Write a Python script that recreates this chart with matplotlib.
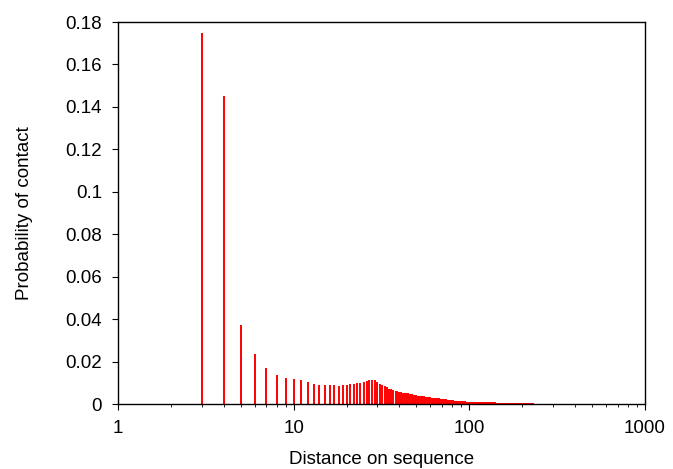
import numpy as np
import matplotlib
matplotlib.use("Agg")
import matplotlib.pyplot as plt
from matplotlib.ticker import FixedLocator, LogLocator, NullFormatter

plt.rcParams['font.family'] = ['Liberation Sans', 'DejaVu Sans']

# Sequence distance (integer) and probability of contact
distance = list(range(3, 251))
probability = [
    0.175, 0.145, 0.037, 0.0235, 0.017, 0.0136, 0.0122, 0.0117,          # 3-10
    0.0115, 0.0103, 0.0096, 0.0091, 0.0091, 0.0091, 0.0090, 0.0087, 0.0090, 0.0091,  # 11-20
    0.0093, 0.0094, 0.0097, 0.0099, 0.0102, 0.0107, 0.0112, 0.0113, 0.0111, 0.0102,  # 21-30
    0.0096, 0.0090, 0.0084, 0.0078, 0.0072, 0.0069, 0.0066, 0.0062, 0.0059, 0.0056,  # 31-40
    0.0055, 0.0054, 0.0053, 0.0051, 0.0050, 0.0047, 0.0045, 0.0043, 0.0042, 0.0041,  # 41-50
    0.0040, 0.0039, 0.0038, 0.0037, 0.0036, 0.0035, 0.0034, 0.0033, 0.0032, 0.0031,  # 51-60
    0.0030, 0.0030, 0.0029, 0.0029, 0.0028, 0.0027, 0.0026, 0.0025, 0.0024, 0.0024,  # 61-70
    0.0023, 0.0023, 0.0022, 0.0022, 0.0021, 0.0020, 0.0019, 0.0018, 0.0018, 0.0017,  # 71-80
    0.0017, 0.0016, 0.0016, 0.0015, 0.0015, 0.0015, 0.0014, 0.0014, 0.0014, 0.0013,  # 81-90
    0.0013, 0.0013, 0.0012, 0.0012, 0.0012, 0.0011, 0.0011, 0.0011, 0.0010, 0.0010,  # 91-100
    0.0010, 0.0010, 0.0010, 0.0010, 0.0010, 0.0010, 0.0010, 0.0010, 0.0010, 0.0010,  # 101-110
    0.0009, 0.0009, 0.0009, 0.0009, 0.0009, 0.0009, 0.0009, 0.0009, 0.0009, 0.0009,  # 111-120
    0.0009, 0.0009, 0.0009, 0.0008, 0.0008, 0.0008, 0.0008, 0.0008, 0.0008, 0.0008,  # 121-130
    0.0008, 0.0008, 0.0008, 0.0008, 0.0008, 0.0008, 0.0008, 0.0008, 0.0008, 0.0008,  # 131-140
    0.0007, 0.0007, 0.0007, 0.0007, 0.0007, 0.0007, 0.0007, 0.0007, 0.0007, 0.0007,  # 141-150
    0.0006, 0.0006, 0.0006, 0.0006, 0.0006, 0.0006, 0.0006, 0.0006, 0.0006, 0.0006,  # 151-160
    0.0006, 0.0006, 0.0006, 0.0006, 0.0006, 0.0005, 0.0005, 0.0005, 0.0005, 0.0005,  # 161-170
    0.0005, 0.0005, 0.0005, 0.0005, 0.0005, 0.0005, 0.0005, 0.0005, 0.0005, 0.0005,  # 171-180
    0.0005, 0.0005, 0.0004, 0.0004, 0.0004, 0.0004, 0.0004, 0.0004, 0.0004, 0.0004,  # 181-190
    0.0004, 0.0004, 0.0004, 0.0004, 0.0004, 0.0004, 0.0004, 0.0004, 0.0004, 0.0004,  # 191-200
    0.0004, 0.0004, 0.0003, 0.0003, 0.0003, 0.0003, 0.0003, 0.0003, 0.0003, 0.0003,  # 201-210
    0.0003, 0.0003, 0.0003, 0.0003, 0.0003, 0.0003, 0.0003, 0.0003, 0.0003, 0.0003,  # 211-220
    0.0003, 0.0003, 0.0003, 0.0003, 0.0003, 0.0003, 0.0003, 0.0003, 0.0003, 0.0003,  # 221-230
    0.0002, 0.0002, 0.0002, 0.0002, 0.0002, 0.0002, 0.0002, 0.0002, 0.0002, 0.0002,  # 231-240
    0.0002, 0.0002, 0.0002, 0.0002, 0.0002, 0.0002, 0.0002, 0.0002, 0.0002, 0.0002,  # 241-250
]

x_ticks = [1, 10, 100, 1000]
x_tick_labels = ["1", "10", "100", "1000"]
y_ticks = [0, 0.02, 0.04, 0.06, 0.08, 0.1, 0.12, 0.14, 0.16, 0.18]
y_tick_labels = ["0", "0.02", "0.04", "0.06", "0.08", "0.1", "0.12", "0.14", "0.16", "0.18"]

fig = plt.figure(figsize=(6.73, 4.69), dpi=100)
ax = fig.add_axes([118 / 673, 65 / 469, (645 - 118) / 673, (404 - 22) / 469])

ax.vlines(distance, 0, probability, colors='#ff0000', linewidth=1.4)

ax.set_xscale('log')
ax.set_xlim(1, 1000)
ax.set_ylim(0, 0.18)

ax.xaxis.set_major_locator(FixedLocator(x_ticks))
ax.set_xticklabels(x_tick_labels)
ax.xaxis.set_minor_locator(LogLocator(base=10, subs=np.arange(2, 10)))
ax.xaxis.set_minor_formatter(NullFormatter())
ax.set_yticks(y_ticks)
ax.set_yticklabels(y_tick_labels)

ax.tick_params(axis='both', which='major', direction='out', length=4.5, width=0.8,
               labelsize=13.5, colors='black')
ax.tick_params(axis='y', which='major', pad=7)
ax.tick_params(axis='x', which='major', pad=7)
ax.tick_params(axis='x', which='minor', direction='out', length=2.5, width=0.6)
ax.tick_params(top=False, right=False, which='both')

for s in ax.spines.values():
    s.set_linewidth(1.0)

ax.set_xlabel('Distance on sequence', fontsize=13.5, labelpad=10)
ax.set_ylabel('Probability of contact', fontsize=13.5, labelpad=23)

fig.savefig('out.png', dpi=100)
